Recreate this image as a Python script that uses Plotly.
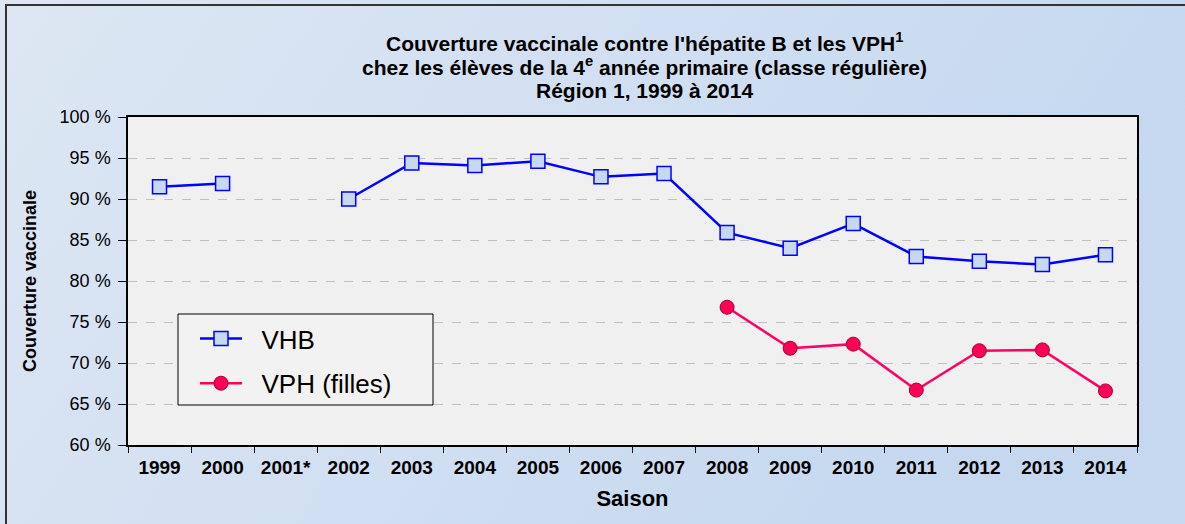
import base64
import plotly.graph_objects as go

saisons = ["1999", "2000", "2001*", "2002", "2003", "2004", "2005", "2006",
           "2007", "2008", "2009", "2010", "2011", "2012", "2013", "2014"]
vhb = [91.5, 91.9, None, 90.0, 94.4, 94.1, 94.6, 92.7,
       93.1, 85.9, 84.0, 87.0, 83.0, 82.4, 82.0, 83.2]
vph = [None, None, None, None, None, None, None, None,
       None, 76.8, 71.8, 72.3, 66.7, 71.5, 71.6, 66.6]
titre = [
    "Couverture vaccinale contre l'hépatite B et les VPH<sup>1</sup>",
    "chez les élèves de la 4<sup>e</sup> année primaire (classe régulière)",
    "Région 1, 1999 à 2014",
]

W, H = 1185, 524
L, R, T, B = 128, 48, 117, 79
pw, ph = W - L - R, H - T - B

FONT = "Liberation Sans, Arial, sans-serif"
NB = "\u00a0"

# soft blue gradient for the paper background
svg = (
    '<svg xmlns="http://www.w3.org/2000/svg" width="1185" height="524">'
    '<defs><linearGradient id="g" x1="0" y1="0" x2="1" y2="0.3">'
    '<stop offset="0" stop-color="#dde7f3"/><stop offset="1" stop-color="#c5d8f0"/>'
    '</linearGradient></defs><rect width="1185" height="524" fill="url(#g)"/></svg>'
)
bg_src = "data:image/svg+xml;base64," + base64.b64encode(svg.encode()).decode()


def px_x(px):
    return (px - L) / pw


def px_y(py):
    return 1 - (py - T) / ph


fig = go.Figure()
fig.add_trace(go.Scatter(
    x=saisons, y=vhb, name=NB * 2 + "VHB", mode="lines+markers", legendgroup="a",
    connectgaps=False,
    line=dict(color="#0000ff", width=2.5),
    marker=dict(symbol="square", size=14, color="#c6d9f1",
                line=dict(color="#0000ff", width=1.5)),
))
fig.add_trace(go.Scatter(
    x=saisons, y=vph, name=NB * 2 + "VPH (filles)", mode="lines+markers",
    legendgroup="b",
    line=dict(color="#ff0066", width=2.5),
    marker=dict(symbol="circle", size=14, color="#ff0055",
                line=dict(color="#a0002e", width=1)),
))

# plot area fill (above the background image)
fig.add_shape(type="rect", xref="x domain", yref="y domain", x0=0, x1=1, y0=0, y1=1,
              fillcolor="#f0f0f0", line_width=0, layer="below")
# legend box
fig.add_shape(type="rect", xref="paper", yref="paper",
              x0=px_x(178), x1=px_x(433), y0=px_y(405), y1=px_y(314),
              fillcolor="#f2f2f2", line=dict(color="#000000", width=1), layer="above")
# outer frame of the chart
fig.add_shape(type="rect", xref="paper", yref="paper",
              x0=px_x(6), x1=px_x(W + 5), y0=px_y(H + 5), y1=px_y(5),
              line=dict(color="#333333", width=2), fillcolor="rgba(0,0,0,0)")

for txt, py in zip(titre, [42, 66, 90]):
    fig.add_annotation(
        text="<b>" + txt + "</b>", xref="paper", yref="paper",
        x=px_x(644), y=px_y(py), xanchor="center", yanchor="middle", showarrow=False,
        font=dict(family=FONT, size=21, color="#000000"),
    )

fig.update_layout(
    width=W, height=H,
    margin=dict(l=L, r=R, t=T, b=B),
    paper_bgcolor="#d5e2f2",
    plot_bgcolor="rgba(0,0,0,0)",
    font=dict(family=FONT, color="#000000"),
    images=[dict(source=bg_src, xref="paper", yref="paper",
                 x=-L / pw, y=1 + T / ph, sizex=W / pw, sizey=H / ph,
                 xanchor="left", yanchor="top", sizing="stretch", layer="below")],
    showlegend=True,
    legend=dict(
        x=px_x(195), y=px_y(315), xanchor="left", yanchor="top",
        bgcolor="rgba(0,0,0,0)", borderwidth=0,
        font=dict(family=FONT, size=26), traceorder="grouped", tracegroupgap=8,
        itemwidth=42,
    ),
    xaxis=dict(
        type="category", range=[-0.5, 15.5], tickson="boundaries", ticks="outside",
        ticklen=6, tickcolor="#000000",
        tickfont=dict(family=FONT, size=19, weight="bold"),
        ticklabelstandoff=4, automargin=False,
        showline=True, linecolor="#000000", linewidth=1.5, mirror=True,
        showgrid=False,
        title=dict(text="<b>Saison</b>", font=dict(family=FONT, size=22), standoff=14),
    ),
    yaxis=dict(
        range=[60, 100], dtick=5, ticksuffix=" %", ticks="outside", ticklen=8,
        tickcolor="#000000", tickfont=dict(family=FONT, size=18),
        ticklabelstandoff=4, automargin=False,
        showline=True, linecolor="#000000", linewidth=1.5, mirror=True,
        showgrid=True, gridcolor="#c0c0c0", griddash="dash", gridwidth=1,
        zeroline=False,
        title=dict(text="<b>Couverture vaccinale</b>", font=dict(family=FONT, size=18),
                   standoff=18),
    ),
)

fig.write_html("out.html", config={"displayModeBar": False},
               post_script="document.body.style.margin='0';")
